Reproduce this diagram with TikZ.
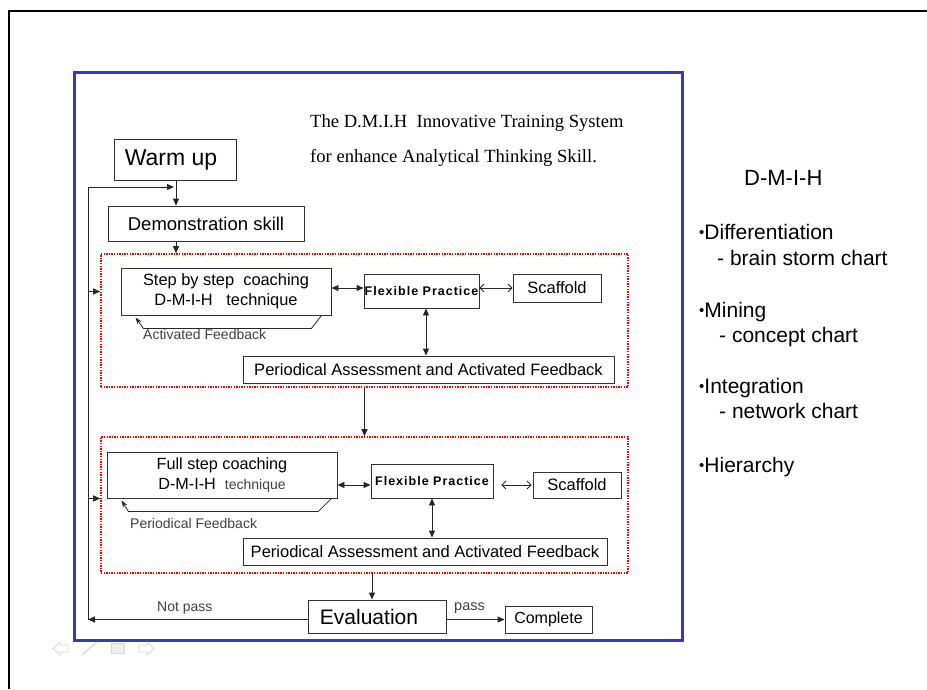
\documentclass[tikz,border=0pt]{standalone}
\usepackage{fontspec}
\setmainfont{Liberation Sans}
\newfontfamily\titlefont{Liberation Serif}
\usetikzlibrary{arrows.meta}
\definecolor{frameblue}{RGB}{60,60,165}
\definecolor{navgray}{RGB}{215,215,215}
\newcommand{\fs}[1]{\fontsize{#1}{#1}\selectfont}
\newcommand{\bul}{\raisebox{1.5pt}{\fs{15}•}}
\begin{document}
\begin{tikzpicture}[x=1pt,y=-1pt,
  box/.style={draw=black!80, line width=0.9pt, inner sep=0pt, align=center},
  group/.style={draw=red, line width=1.6pt, dash pattern=on 1.4pt off 1.2pt, inner sep=0pt},
  conn/.style={draw=black!85, line width=0.9pt},
  arr/.style={conn, -{Triangle[length=7pt,width=6pt]}},
  darr/.style={conn, {Triangle[length=7pt,width=6pt]}-{Triangle[length=7pt,width=6pt]}},
  oarr/.style={conn, line width=0.8pt, {Straight Barb[length=4pt,width=8pt]}-{Straight Barb[length=4pt,width=8pt]}},
  fb/.style={conn, line width=0.8pt, -{Stealth[length=7pt,width=5pt]}},
  lbl/.style={inner sep=0pt, anchor=base west, text=black!75},
  side/.style={inner sep=0pt, anchor=base west, font=\fs{21}},
  flex/.style={font=\fs{12.5}\bfseries\addfontfeatures{LetterSpace=8}}
]
\useasboundingbox (0,0) rectangle (927,689);

% outer frame and blue frame
\draw[line width=2.2pt] (9,689) -- (9,11) -- (927,11);
\draw[frameblue, line width=3pt] (74,72) rectangle (682,640);

% title
\node[inner sep=0pt, anchor=base west, font=\titlefont\fs{18.6}] (t1) at (310,127) {The D.M.I.H\ \ Innovative Training System};
\node[inner sep=0pt, anchor=base west, font=\titlefont\fs{18.6}] (t2) at (310,162) {for enhance Analytical Thinking Skill.};

% groups
\node[group, minimum width=527pt, minimum height=133pt] (g1) at (364.5,320.5) {};
\node[group, minimum width=527pt, minimum height=136pt] (g2) at (364.5,505) {};

% boxes
\node[box, minimum width=122pt, minimum height=41pt, font=\fs{23}] (warm) at (175,159.5) {Warm up\hspace{8pt}};
\node[box, minimum width=196pt, minimum height=35pt, font=\fs{18.5}] (demo) at (206,223.5) {Demonstration skill};
\node[box, minimum width=210pt, minimum height=47pt, font=\fontsize{16.4}{20}\selectfont] (step1) at (226,291.5) {Step by step\ \ coaching\hspace{8pt}\\D-M-I-H\ \ \ technique\hspace{12pt}};
\node[box, flex, minimum width=115pt, minimum height=34pt] (flex1) at (421.5,291) {Flexible Practice};
\node[box, minimum width=88pt, minimum height=28pt, font=\fs{16.5}] (scaf1) at (557,288) {Scaffold};
\node[box, minimum width=371pt, minimum height=27pt, font=\fs{16.5}] (per1) at (428.5,369.5) {Periodical Assessment and Activated Feedback};

\node[box, minimum width=230pt, minimum height=46pt, font=\fontsize{16.2}{19.5}\selectfont] (full) at (222,475) {Full step coaching\\D-M-I-H\ \ {\fs{14}\color{black!75}technique}\hspace{6pt}};
\node[box, flex, minimum width=122pt, minimum height=34pt] (flex2) at (432,481) {Flexible Practice};
\node[box, minimum width=88pt, minimum height=26pt, font=\fs{16.5}] (scaf2) at (577,485) {Scaffold};
\node[box, minimum width=364pt, minimum height=27pt, font=\fs{16.5}] (per2) at (425,551.5) {Periodical Assessment and Activated Feedback};

\node[box, minimum width=138pt, minimum height=33pt, font=\fs{21}] (eval) at (377,616.5) {Evaluation\hspace{16pt}};
\node[box, minimum width=87pt, minimum height=27pt, font=\fs{16}] (comp) at (548.5,619.5) {Complete};

% loop coordinates
\coordinate (lb) at (88,619.5);
\coordinate (lt) at (88,187);

% connectors
\draw[arr] ([xshift=1pt]warm.south) -- ([xshift=1pt]warm.south |- demo.north);
\draw[arr] ([xshift=1pt]warm.south |- demo.south) -- ([xshift=1pt]warm.south |- g1.north);
\draw[conn] (lb) -- (lt);
\draw[arr] (lt) -- ([xshift=-1pt]warm.south |- lt);
\draw[arr] (lt |- step1) -- (g1.west |- step1);
\draw[arr] (lt |- full.south) -- (g2.west |- full.south);

\draw[darr] (step1.east |- scaf1) -- (flex1.west |- scaf1);
\draw[oarr] (flex1.east |- scaf1) -- (scaf1.west);
\draw[darr] ([xshift=4.5pt]flex1.south) -- ([xshift=4.5pt]flex1.south |- per1.north);
\draw[fb] ([xshift=-10pt]step1.south east) -- ++(-10,13) -- ++(-168,0) -- ([xshift=15pt,yshift=-2pt]step1.south west);
\node[lbl, font=\fs{14}] (af) at (143,339) {Activated Feedback};

\draw[arr] (g1.south) -- (g1.south |- g2.north);

\draw[darr] (full.east |- scaf2) -- (flex2.west |- scaf2);
\draw[oarr] ([xshift=8pt]flex2.east |- scaf2) -- ([xshift=-1pt]scaf2.west);
\draw[darr] (flex2.south) -- (flex2.south |- per2.north);
\draw[fb] ([xshift=-6pt]full.south east) -- ++(-13,13) -- ++(-190,0) -- ([xshift=15pt,yshift=-2pt]full.south west);
\node[lbl, font=\fs{14}] (pf) at (130,528) {Periodical Feedback};

\draw[arr] ([xshift=-5pt]eval.north |- g2.south) -- ([xshift=-5pt]eval.north);
\draw[arr] (eval.west |- lb) -- (lb);
\draw[arr] (eval.east |- comp.west) -- (comp.west);
\node[lbl, font=\fs{14}] (np) at (157,611) {Not pass};
\node[lbl, font=\fs{14.5}] (ps) at (454,610) {pass};

% side text
\node[inner sep=0pt, anchor=base west, font=\fs{22}] (dmih) at (744,185) {D-M-I-H};
\node[side] (s1) at (699,239) {\bul Differentiation};
\node[side] (s1b) at (717,265) {- brain storm chart};
\node[side] (s2) at (699,317) {\bul Mining};
\node[side] (s2b) at (719,342) {- concept chart};
\node[side] (s3) at (699,393) {\bul Integration};
\node[side] (s3b) at (719,418) {- network chart};
\node[side] (s4) at (699,472) {\bul Hierarchy};

% navigation icons
\draw[navgray, line width=0.8pt, fill=white] (53,648.5) -- (60,642) -- (60,645) -- (68,645) -- (68,652) -- (60,652) -- (60,655) -- cycle;
\draw[navgray, line width=1.2pt] (82,655) -- (97,642);
\draw[navgray, line width=0.8pt, fill=navgray!40] (111,643) rectangle (124,653);
\draw[navgray, line width=0.8pt, fill=white] (154,648.5) -- (147,642) -- (147,645) -- (139,645) -- (139,652) -- (147,652) -- (147,655) -- cycle;
\end{tikzpicture}
\end{document}
